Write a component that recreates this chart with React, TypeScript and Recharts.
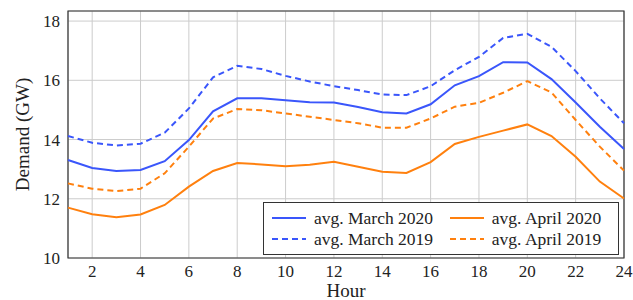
import { LineChart, Line, XAxis, YAxis, CartesianGrid, ReferenceArea } from "recharts"

const hours = [1, 2, 3, 4, 5, 6, 7, 8, 9, 10, 11, 12, 13, 14, 15, 16, 17, 18, 19, 20, 21, 22, 23, 24]

const march2020 = [13.31, 13.04, 12.94, 12.97, 13.27, 13.98, 14.95, 15.39, 15.39, 15.33, 15.26, 15.25, 15.1, 14.92, 14.88, 15.19, 15.83, 16.14, 16.61, 16.6, 16.04, 15.25, 14.43, 13.68]
const march2019 = [14.12, 13.89, 13.8, 13.86, 14.23, 15.05, 16.1, 16.49, 16.38, 16.15, 15.96, 15.8, 15.67, 15.52, 15.5, 15.8, 16.34, 16.79, 17.43, 17.57, 17.13, 16.31, 15.39, 14.55]
const april2020 = [11.7, 11.48, 11.38, 11.47, 11.79, 12.41, 12.94, 13.21, 13.16, 13.1, 13.15, 13.25, 13.08, 12.91, 12.87, 13.24, 13.85, 14.09, 14.3, 14.51, 14.12, 13.42, 12.58, 12.01]
const april2019 = [12.52, 12.34, 12.26, 12.34, 12.86, 13.76, 14.71, 15.03, 14.99, 14.88, 14.77, 14.66, 14.55, 14.4, 14.4, 14.71, 15.11, 15.24, 15.58, 15.97, 15.59, 14.66, 13.76, 12.95]

const xTicks = [2, 4, 6, 8, 10, 12, 14, 16, 18, 20, 22, 24]
const yTicks = [10, 12, 14, 16, 18]

const BLUE = "#3a56fb"
const ORANGE = "#ff800e"
const FONT = "Liberation Serif, DejaVu Serif, serif"

const series = [
  { key: "m20", name: "avg. March 2020", color: BLUE, dashed: false },
  { key: "a20", name: "avg. April 2020", color: ORANGE, dashed: false },
  { key: "m19", name: "avg. March 2019", color: BLUE, dashed: true },
  { key: "a19", name: "avg. April 2019", color: ORANGE, dashed: true },
]

const data = hours.map((h, i) => ({
  hour: h,
  m20: march2020[i],
  m19: march2019[i],
  a20: april2020[i],
  a19: april2019[i],
}))

const XTick = (p: any) => (
  <text x={p.x} y={p.y + 11} textAnchor="middle" fill="#222" style={{ fontFamily: FONT, fontSize: 17 }}>
    {p.payload.value}
  </text>
)

const YTick = (p: any) => (
  <text x={p.x} y={p.y + 6} textAnchor="end" fill="#222" style={{ fontFamily: FONT, fontSize: 17 }}>
    {p.payload.value}
  </text>
)

// legend drawn as an overlay so it doesn't shrink the plot
function LegendBox() {
  return (
    <div
      style={{
        position: "absolute",
        left: 263,
        top: 202,
        width: 356,
        height: 53,
        border: "1px solid #333",
        background: "#fff",
        display: "grid",
        gridTemplateColumns: "auto auto",
        columnGap: 6,
        alignContent: "center",
        padding: "0 7px",
        fontFamily: FONT,
        fontSize: 17.5,
        color: "#222",
        boxSizing: "border-box",
      }}
    >
      {series.map((s) => (
        <div key={s.key} style={{ display: "flex", alignItems: "center", height: 21, whiteSpace: "nowrap" }}>
          <svg width={36} height={6} style={{ marginRight: 7, flexShrink: 0 }}>
            <line
              x1={1}
              y1={3}
              x2={35}
              y2={3}
              stroke={s.color}
              strokeWidth={2}
              strokeDasharray={s.dashed ? "6 4" : undefined}
            />
          </svg>
          <span>{s.name}</span>
        </div>
      ))}
    </div>
  )
}

export default function App() {
  return (
    <div style={{ position: "absolute", left: 0, top: 0, width: 633, height: 300, background: "#fff", fontFamily: FONT }}>
      <LineChart width={633} height={300} data={data} margin={{ top: 11, right: 9, left: 0, bottom: 0 }}>
        <CartesianGrid stroke="#cccccc" strokeWidth={1} />
        <XAxis
          dataKey="hour"
          type="number"
          domain={[1, 24]}
          ticks={xTicks}
          height={42}
          tickLine={false}
          axisLine={false}
          tick={XTick}
          label={{ value: "Hour", position: "insideBottom", offset: 3, style: { fill: "#222", fontFamily: FONT, fontSize: 19 } }}
        />
        <YAxis
          type="number"
          domain={[10, 18.34]}
          ticks={yTicks}
          width={68}
          tickLine={false}
          axisLine={false}
          allowDataOverflow
          tick={YTick}
          label={{
            value: "Demand (GW)",
            angle: -90,
            position: "insideLeft",
            offset: 22,
            style: { fill: "#222", fontFamily: FONT, fontSize: 19, textAnchor: "middle" },
          }}
        />
        <ReferenceArea x1={1} x2={24} y1={10} y2={18.34} fill="none" stroke="#333" strokeWidth={1.2} ifOverflow="visible" />
        {series.map((s) => (
          <Line
            key={s.key}
            dataKey={s.key}
            name={s.name}
            type="linear"
            stroke={s.color}
            strokeWidth={2}
            strokeDasharray={s.dashed ? "6 4" : undefined}
            dot={false}
            isAnimationActive={false}
          />
        ))}
      </LineChart>
      <LegendBox />
    </div>
  )
}
